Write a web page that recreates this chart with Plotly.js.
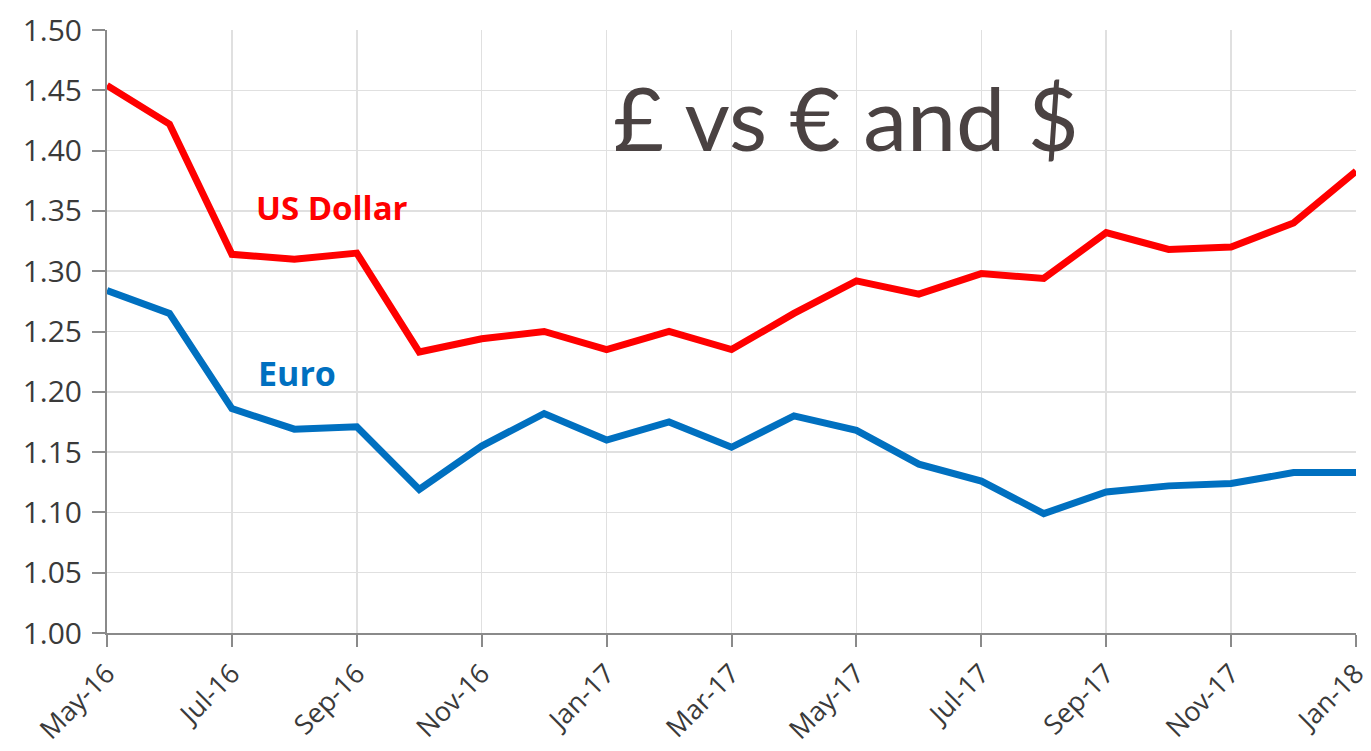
<!DOCTYPE html>
<html>
<head>
<meta charset="utf-8">
<script src="https://cdn.plot.ly/plotly-3.0.1.min.js"></script>
<style>html,body{margin:0;padding:0;background:#fff;}#chart{width:1371px;height:751px;}</style>
</head>
<body>
<div id="chart"></div>
<script>
var months = ["May-16","Jun-16","Jul-16","Aug-16","Sep-16","Oct-16","Nov-16","Dec-16","Jan-17","Feb-17","Mar-17","Apr-17","May-17","Jun-17","Jul-17","Aug-17","Sep-17","Oct-17","Nov-17","Dec-17","Jan-18"];
var usDollar = [1.454,1.422,1.314,1.310,1.315,1.233,1.244,1.250,1.235,1.250,1.235,1.265,1.292,1.281,1.298,1.294,1.332,1.318,1.320,1.340,1.383];
var euro = [1.284,1.265,1.186,1.169,1.171,1.119,1.155,1.182,1.160,1.175,1.154,1.180,1.168,1.140,1.126,1.099,1.117,1.122,1.124,1.133,1.133];
var tickLabels = ["May-16","Jul-16","Sep-16","Nov-16","Jan-17","Mar-17","May-17","Jul-17","Sep-17","Nov-17","Jan-18"];
var yTicks = [1.00,1.05,1.10,1.15,1.20,1.25,1.30,1.35,1.40,1.45,1.50];
var seriesNames = ["US Dollar","Euro"];
var titleText = "£ vs € and $";

var traces = [
  {x: months, y: usDollar, type: "scatter", mode: "lines", name: seriesNames[0],
   line: {color: "#ff0000", width: 7}},
  {x: months, y: euro, type: "scatter", mode: "lines", name: seriesNames[1],
   line: {color: "#0070c0", width: 7}}
];

var yFont = {family: "Open Sans, sans-serif", size: 30, color: "#3a3a3a"};
var xFont = {family: "Open Sans, sans-serif", size: 27, color: "#3a3a3a"};

var layout = {
  width: 1371, height: 751,
  margin: {l: 107, r: 15, t: 30, b: 118},
  paper_bgcolor: "#ffffff", plot_bgcolor: "#ffffff",
  showlegend: false,
  xaxis: {
    type: "category", categoryorder: "array", categoryarray: months,
    range: [0, months.length - 1],
    tickmode: "array", tickvals: tickLabels, ticktext: tickLabels,
    tickangle: -45, tickfont: xFont,
    ticks: "outside", ticklen: 12, tickwidth: 2, tickcolor: "#8a8a8a",
    showgrid: true, gridcolor: "#e0e0e0", gridwidth: 1.5,
    showline: true, linecolor: "#8a8a8a", linewidth: 2,
    zeroline: false, automargin: false
  },
  yaxis: {
    range: [1.00, 1.50],
    tickmode: "array", tickvals: yTicks, tickformat: ".2f",
    tickfont: yFont,
    ticks: "outside", ticklen: 13, tickwidth: 2, tickcolor: "#8a8a8a",
    ticklabelstandoff: 4,
    showgrid: true, gridcolor: "#e0e0e0", gridwidth: 1.5,
    showline: true, linecolor: "#8a8a8a", linewidth: 2,
    zeroline: false, automargin: false
  },
  annotations: [
    {x: 3.6, y: 1.353, xref: "x", yref: "y", text: "<b>" + seriesNames[0] + "</b>", showarrow: false,
     font: {family: "Open Sans, sans-serif", size: 33, color: "#ff0000"}},
    {x: 3.05, y: 1.216, xref: "x", yref: "y", text: "<b>" + seriesNames[1] + "</b>", showarrow: false,
     font: {family: "Open Sans, sans-serif", size: 34, color: "#0070c0"}},
    {x: 11.83, y: 1.428, xref: "x", yref: "y", text: titleText, showarrow: false,
     font: {family: "Lato, sans-serif", size: 88, color: "#4a4242"}}
  ]
};

Plotly.newPlot("chart", traces, layout, {displayModeBar: false, staticPlot: true});
</script>
</body>
</html>
